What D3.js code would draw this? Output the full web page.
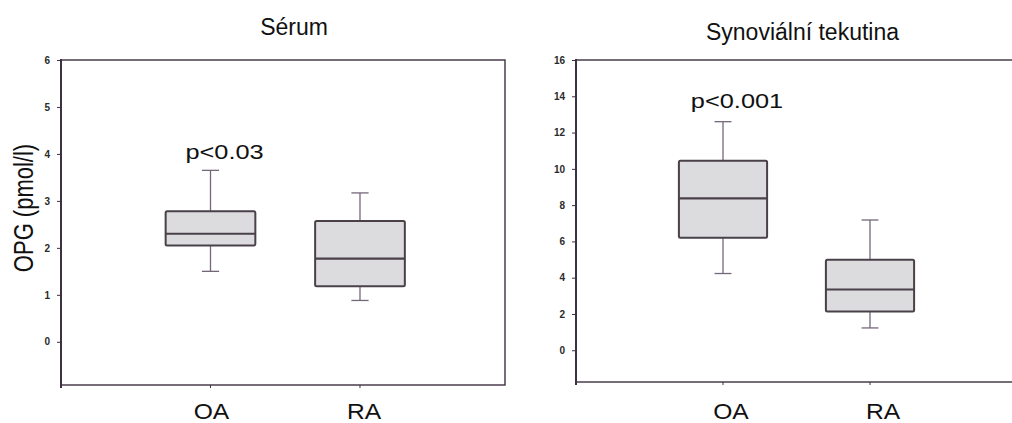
<!DOCTYPE html>
<html>
<head>
<meta charset="utf-8">
<script src="https://cdn.jsdelivr.net/npm/d3@7"></script>
<style>
  body { margin: 0; background: #fff; }
  svg { display: block; font-family: "Liberation Sans", Arial, sans-serif; }
</style>
</head>
<body>
<svg id="chart"></svg>
<script>
const groups = ['OA', 'RA'];

// Sérum
const serumLow = [1.50, 0.88];
const serumQ1 = [2.05, 1.18];
const serumMedian = [2.30, 1.77];
const serumQ3 = [2.78, 2.57];
const serumHigh = [3.65, 3.17];
const serumTicks = [0, 1, 2, 3, 4, 5, 6];

// Synoviální tekutina
const synLow = [4.23, 1.23];
const synQ1 = [6.20, 2.14];
const synMedian = [8.37, 3.35];
const synQ3 = [10.45, 4.99];
const synHigh = [12.6, 7.18];
const synTicks = [0, 2, 4, 6, 8, 10, 12, 14, 16];

const titles = ['Sérum', 'Synoviální tekutina'];
const pLabels = ['p<0.03', 'p<0.001'];
const yLabel = 'OPG (pmol/l)';

const width = 1012;
const height = 423;
const axisColor = '#3d3040';
const boxStroke = '#4a4048';
const whiskerColor = '#75677a';
const boxFill = '#dcdcdf';

const svg = d3.select('#chart')
  .attr('width', width)
  .attr('height', height);

function rows(low, q1, med, q3, high) {
  return groups.map((g, i) => ({
    group: g, pos: i + 1, low: low[i], q1: q1[i], med: med[i], q3: q3[i], high: high[i]
  }));
}

function drawPanel(cfg) {
  const x = d3.scaleLinear().domain(cfg.xDomain).range([cfg.left, cfg.right]);
  const y = d3.scaleLinear().domain(cfg.yDomain).range([cfg.bottom, cfg.top]);
  const g = svg.append('g');

  // frame
  g.append('rect')
    .attr('x', cfg.left)
    .attr('y', cfg.top)
    .attr('width', cfg.right - cfg.left)
    .attr('height', cfg.bottom - cfg.top)
    .attr('fill', 'none')
    .attr('stroke', axisColor)
    .attr('stroke-width', 1.4);

  // y axis
  const yAxis = g.append('g')
    .attr('transform', `translate(${cfg.left},0)`)
    .call(d3.axisLeft(y).tickValues(cfg.ticks).tickSize(4).tickPadding(7).tickFormat(d3.format('d')));
  yAxis.select('.domain').remove();
  yAxis.selectAll('.tick line').attr('stroke', axisColor);
  yAxis.selectAll('.tick text')
    .attr('fill', '#2a2a2a')
    .style('font-size', '10px')
    .style('font-weight', 'bold')
    .style('font-family', '"Liberation Sans", Arial, sans-serif');
  g.append('line')
    .attr('x1', cfg.left).attr('x2', cfg.left)
    .attr('y1', cfg.top - 1).attr('y2', cfg.bottom + 3)
    .attr('stroke', axisColor)
    .attr('stroke-width', 2);

  // x ticks at categories
  g.selectAll('.xtick')
    .data(cfg.data)
    .enter().append('line')
    .attr('x1', d => x(d.pos)).attr('x2', d => x(d.pos))
    .attr('y1', cfg.bottom).attr('y2', cfg.bottom + 3)
    .attr('stroke', axisColor);

  const boxW = x(0.6) - x(0);
  const capW = x(0.115) - x(0);

  const box = g.selectAll('.box')
    .data(cfg.data)
    .enter().append('g')
    .attr('class', 'box');

  box.append('line')
    .attr('x1', d => x(d.pos)).attr('x2', d => x(d.pos))
    .attr('y1', d => y(d.high)).attr('y2', d => y(d.q3))
    .attr('stroke', whiskerColor).attr('stroke-width', 1.3);
  box.append('line')
    .attr('x1', d => x(d.pos)).attr('x2', d => x(d.pos))
    .attr('y1', d => y(d.q1)).attr('y2', d => y(d.low))
    .attr('stroke', whiskerColor).attr('stroke-width', 1.3);
  box.append('line')
    .attr('x1', d => x(d.pos) - capW / 2).attr('x2', d => x(d.pos) + capW / 2)
    .attr('y1', d => y(d.high)).attr('y2', d => y(d.high))
    .attr('stroke', whiskerColor).attr('stroke-width', 1.3);
  box.append('line')
    .attr('x1', d => x(d.pos) - capW / 2).attr('x2', d => x(d.pos) + capW / 2)
    .attr('y1', d => y(d.low)).attr('y2', d => y(d.low))
    .attr('stroke', whiskerColor).attr('stroke-width', 1.3);

  box.append('rect')
    .attr('x', d => x(d.pos) - boxW / 2)
    .attr('y', d => y(d.q3))
    .attr('width', boxW)
    .attr('height', d => y(d.q1) - y(d.q3))
    .attr('rx', 1.5)
    .attr('fill', boxFill)
    .attr('stroke', boxStroke)
    .attr('stroke-width', 2);
  box.append('line')
    .attr('x1', d => x(d.pos) - boxW / 2).attr('x2', d => x(d.pos) + boxW / 2)
    .attr('y1', d => y(d.med)).attr('y2', d => y(d.med))
    .attr('stroke', boxStroke).attr('stroke-width', 2.2);

  // category labels
  g.selectAll('.xlab')
    .data(cfg.data)
    .enter().append('text')
    .attr('transform', (d, i) => `translate(${x(d.pos) + cfg.labelDx[i]},419) scale(1.12,1)`)
    .attr('text-anchor', 'middle')
    .style('font-size', '22px')
    .attr('fill', '#111')
    .text(d => d.group);

  // p value label above first box
  const first = cfg.data[0];
  g.append('text')
    .attr('transform', `translate(${x(first.pos) + 14},${y(first.high) - cfg.pGap}) scale(1.3,1)`)
    .attr('text-anchor', 'middle')
    .style('font-size', '19.5px')
    .attr('fill', '#111')
    .text(cfg.pLabel);

  // title
  g.append('text')
    .attr('x', (cfg.left + cfg.right) / 2 + cfg.titleDx)
    .attr('y', cfg.titleY)
    .attr('text-anchor', 'middle')
    .style('font-size', '23px')
    .attr('fill', '#111')
    .text(cfg.title);
}

drawPanel({
  data: rows(serumLow, serumQ1, serumMedian, serumQ3, serumHigh),
  ticks: serumTicks,
  xDomain: [0, 2.97], yDomain: [-0.92, 6],
  left: 61, right: 505, top: 60, bottom: 385,
  title: titles[0], titleDx: 11, titleY: 35,
  pLabel: pLabels[0], pGap: 11,
  labelDx: [1, 4]
});

drawPanel({
  data: rows(synLow, synQ1, synMedian, synQ3, synHigh),
  ticks: synTicks,
  xDomain: [0, 3], yDomain: [-1.75, 16],
  left: 576, right: 1017, top: 60, bottom: 382,
  title: titles[1], titleDx: 6, titleY: 40,
  pLabel: pLabels[1], pGap: 14,
  labelDx: [8, 13]
});

// shared y axis label
svg.append('text')
  .attr('transform', 'translate(33,208) rotate(-90) scale(1,1.24)')
  .attr('text-anchor', 'middle')
  .style('font-size', '22px')
  .attr('fill', '#111')
  .text(yLabel);
</script>
</body>
</html>
